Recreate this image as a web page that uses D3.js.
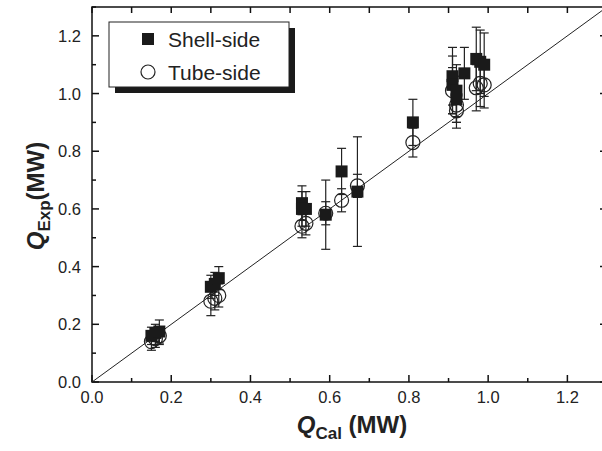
<!DOCTYPE html>
<html>
<head>
<meta charset="utf-8">
<script src="https://cdn.jsdelivr.net/npm/d3@7"></script>
<style>
  body { margin: 0; background: #fff; }
  text { font-family: "Liberation Sans", Arial, sans-serif; fill: #222; }
</style>
</head>
<body>
<script>
// shell-side: calculated Q, experimental Q, error
var shellCal = [0.15, 0.16, 0.17, 0.30, 0.31, 0.32, 0.53, 0.53, 0.54, 0.59, 0.63, 0.67, 0.81, 0.91, 0.91, 0.92, 0.92, 0.94, 0.97, 0.98, 0.99];
var shellExp = [0.16, 0.17, 0.175, 0.33, 0.34, 0.36, 0.62, 0.60, 0.60, 0.58, 0.73, 0.66, 0.90, 1.06, 1.03, 1.01, 0.98, 1.07, 1.12, 1.11, 1.10];
var shellErr = [0.03, 0.03, 0.04, 0.04, 0.04, 0.04, 0.06, 0.06, 0.06, 0.12, 0.08, 0.19, 0.08, 0.10, 0.10, 0.09, 0.08, 0.09, 0.11, 0.11, 0.11];

// tube-side
var tubeCal = [0.15, 0.16, 0.17, 0.30, 0.31, 0.32, 0.53, 0.54, 0.59, 0.63, 0.67, 0.81, 0.91, 0.92, 0.92, 0.97, 0.98, 0.99];
var tubeExp = [0.14, 0.15, 0.16, 0.28, 0.29, 0.30, 0.54, 0.55, 0.585, 0.63, 0.68, 0.83, 1.01, 0.96, 0.94, 1.02, 1.035, 1.03];
var tubeErr = [0.03, 0.03, 0.03, 0.05, 0.04, 0.04, 0.04, 0.04, 0.04, 0.04, 0.04, 0.05, 0.08, 0.06, 0.06, 0.08, 0.08, 0.08];

var xTicks = [0, 0.2, 0.4, 0.6, 0.8, 1.0, 1.2];
var yTicks = [0, 0.2, 0.4, 0.6, 0.8, 1.0, 1.2];
var legendNames = ["Shell-side", "Tube-side"];

var width = 602, height = 451;
var mLeft = 92, mRight = 607, mTop = 7, mBottom = 382;

var svg = d3.select("body").append("svg")
  .attr("width", width)
  .attr("height", height);

var x = d3.scaleLinear().domain([0, 1.3]).range([mLeft, mRight]);
var y = d3.scaleLinear().domain([0, 1.3]).range([mBottom, mTop]);

function zip(a, b, c) {
  return a.map(function(v, i) { return {x: v, y: b[i], e: c[i]}; });
}
var shell = zip(shellCal, shellExp, shellErr);
var tube = zip(tubeCal, tubeExp, tubeErr);

// frame
svg.append("rect")
  .attr("x", mLeft).attr("y", mTop)
  .attr("width", mRight - mLeft).attr("height", mBottom - mTop)
  .attr("fill", "none").attr("stroke", "#111").attr("stroke-width", 1.5);

var minor = d3.range(0, 1.31, 0.1);
function isMajor(d) { return Math.round(d * 10) % 2 === 0; }

// bottom ticks, pointing in
svg.append("g")
  .selectAll("line")
  .data(minor)
  .enter().append("line")
  .attr("x1", function(d) { return x(d); })
  .attr("x2", function(d) { return x(d); })
  .attr("y1", mBottom)
  .attr("y2", function(d) { return mBottom - (isMajor(d) ? 7 : 4); })
  .attr("stroke", "#111").attr("stroke-width", 1.5);

svg.append("g")
  .selectAll("text")
  .data(xTicks)
  .enter().append("text")
  .attr("x", function(d) { return x(d); })
  .attr("y", 403)
  .attr("text-anchor", "middle")
  .attr("font-size", 16.5)
  .text(function(d) { return d.toFixed(1); });

// top ticks
svg.append("g")
  .selectAll("line")
  .data(minor)
  .enter().append("line")
  .attr("x1", function(d) { return x(d); })
  .attr("x2", function(d) { return x(d); })
  .attr("y1", mTop).attr("y2", mTop + 6)
  .attr("stroke", "#111").attr("stroke-width", 1.5);

// left ticks
svg.append("g")
  .selectAll("line")
  .data(minor)
  .enter().append("line")
  .attr("x1", mLeft)
  .attr("x2", function(d) { return mLeft + (isMajor(d) ? 7 : 4); })
  .attr("y1", function(d) { return y(d); })
  .attr("y2", function(d) { return y(d); })
  .attr("stroke", "#111").attr("stroke-width", 1.5);

// right ticks (major only)
svg.append("g")
  .selectAll("line")
  .data(yTicks)
  .enter().append("line")
  .attr("x1", mRight - 7).attr("x2", mRight)
  .attr("y1", function(d) { return y(d); })
  .attr("y2", function(d) { return y(d); })
  .attr("stroke", "#111").attr("stroke-width", 1.5);

svg.append("g")
  .selectAll("text")
  .data(yTicks)
  .enter().append("text")
  .attr("x", 81)
  .attr("y", function(d) { return y(d) + 6; })
  .attr("text-anchor", "end")
  .attr("font-size", 16.5)
  .text(function(d) { return d.toFixed(1); });

// y = x line
svg.append("line")
  .attr("x1", x(0)).attr("y1", y(0))
  .attr("x2", x(1.3)).attr("y2", y(1.3))
  .attr("stroke", "#222").attr("stroke-width", 1);

function errorBars(data) {
  var g = svg.append("g").attr("stroke", "#222").attr("stroke-width", 1.2);
  g.selectAll(".v").data(data).enter().append("line")
    .attr("x1", function(d) { return x(d.x); })
    .attr("x2", function(d) { return x(d.x); })
    .attr("y1", function(d) { return y(d.y - d.e); })
    .attr("y2", function(d) { return y(d.y + d.e); });
  [-1, 1].forEach(function(s) {
    g.selectAll(".c" + s).data(data).enter().append("line")
      .attr("x1", function(d) { return x(d.x) - 4.5; })
      .attr("x2", function(d) { return x(d.x) + 4.5; })
      .attr("y1", function(d) { return y(d.y + s * d.e); })
      .attr("y2", function(d) { return y(d.y + s * d.e); });
  });
}

errorBars(tube);
svg.append("g")
  .selectAll("circle")
  .data(tube)
  .enter().append("circle")
  .attr("cx", function(d) { return x(d.x); })
  .attr("cy", function(d) { return y(d.y); })
  .attr("r", 7)
  .attr("fill", "none")
  .attr("stroke", "#222").attr("stroke-width", 1.2);

errorBars(shell);
svg.append("g")
  .selectAll("rect")
  .data(shell)
  .enter().append("rect")
  .attr("x", function(d) { return x(d.x) - 6; })
  .attr("y", function(d) { return y(d.y) - 6; })
  .attr("width", 12).attr("height", 12)
  .attr("fill", "#1a1a1a");

// legend with shadow
svg.append("rect")
  .attr("x", 115).attr("y", 28).attr("width", 180).attr("height", 65)
  .attr("fill", "#1a1a1a");
svg.append("rect")
  .attr("x", 109).attr("y", 22).attr("width", 180).attr("height", 65)
  .attr("fill", "#fff").attr("stroke", "#222").attr("stroke-width", 1);
svg.append("rect")
  .attr("x", 142).attr("y", 33).attr("width", 12).attr("height", 12)
  .attr("fill", "#1a1a1a");
svg.append("circle")
  .attr("cx", 148).attr("cy", 72).attr("r", 7)
  .attr("fill", "none").attr("stroke", "#222").attr("stroke-width", 1.2);
svg.append("g")
  .selectAll("text")
  .data(legendNames)
  .enter().append("text")
  .attr("x", 168)
  .attr("y", function(d, i) { return 47 + i * 33; })
  .attr("font-size", 21)
  .text(function(d) { return d; });

// axis titles
var xt = svg.append("text")
  .attr("x", 352).attr("y", 433)
  .attr("text-anchor", "middle")
  .attr("font-size", 24).attr("font-weight", "bold");
xt.append("tspan").attr("font-style", "italic").text("Q");
xt.append("tspan").attr("font-size", 17).attr("dy", 6).text("Cal");
xt.append("tspan").attr("dy", -6).text(" (MW)");

var yt = svg.append("text")
  .attr("transform", "translate(44,196) rotate(-90)")
  .attr("text-anchor", "middle")
  .attr("font-size", 24).attr("font-weight", "bold");
yt.append("tspan").attr("font-style", "italic").text("Q");
yt.append("tspan").attr("font-size", 17).attr("dy", 6).text("Exp");
yt.append("tspan").attr("dy", -6).text("(MW)");
</script>
</body>
</html>
